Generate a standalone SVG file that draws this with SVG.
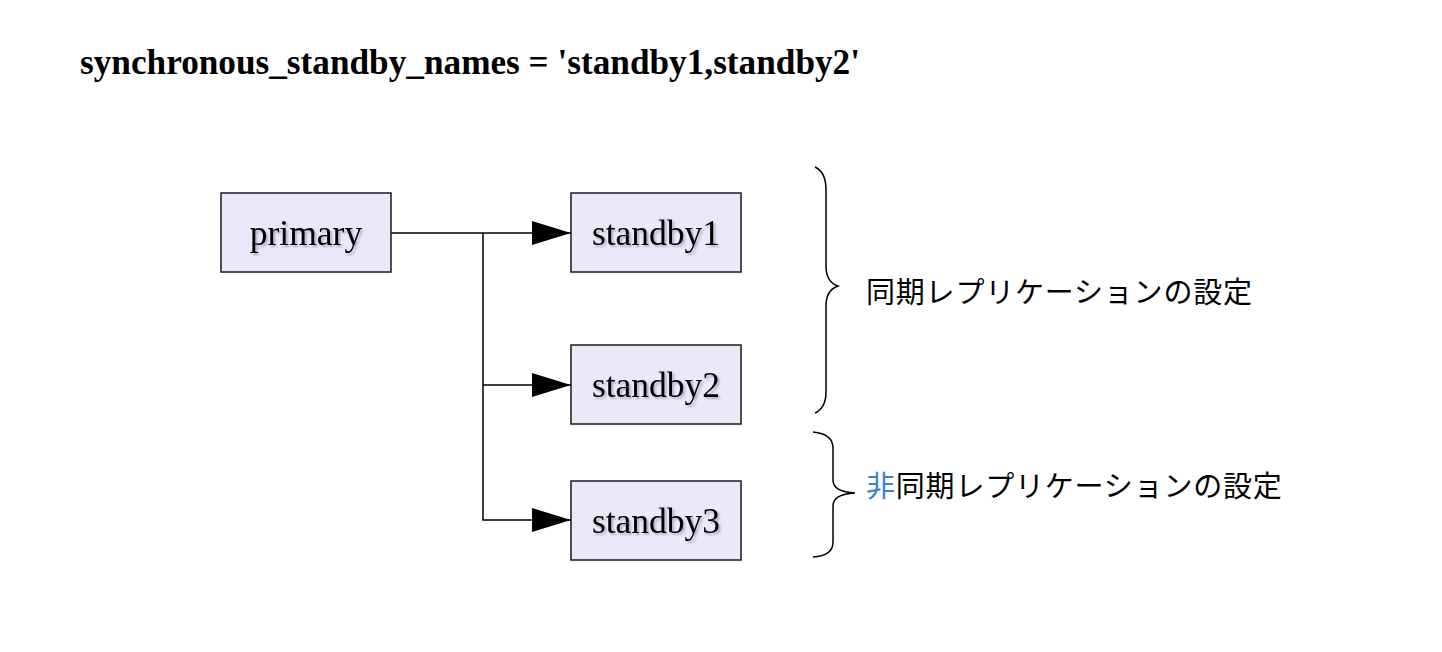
<svg xmlns="http://www.w3.org/2000/svg" width="1442" height="652" viewBox="0 0 1442 652">
<defs>
<style>
.node rect{fill:#e9e9fa;stroke:#1a1a1a;stroke-width:1.5}
.node text{font-family:"Liberation Serif",serif;font-size:35.5px;fill:#000;text-anchor:middle;filter:url(#sh)}
.conn{fill:none;stroke:#000;stroke-width:1.5}
.brace{fill:none;stroke:#000;stroke-width:1.5}
.lbl{font-family:"Noto Sans CJK JP",sans-serif;font-size:29px;letter-spacing:0.8px;fill:#000}
.title{font-family:"Liberation Serif",serif;font-weight:bold;font-size:35px;fill:#000}
</style>
<filter id="sh" x="-10%" y="-20%" width="130%" height="150%">
<feDropShadow dx="2" dy="2" stdDeviation="0.8" flood-color="#000" flood-opacity="0.25"/>
</filter>
<marker id="arr" markerWidth="40" markerHeight="26" refX="39" refY="13" markerUnits="userSpaceOnUse" orient="auto">
<path d="M0,1 L39,13 L0,25 Z" fill="#000"/>
</marker>
</defs>
<rect width="1442" height="652" fill="#fff"/>
<text class="title" x="80" y="74" textLength="780" lengthAdjust="spacingAndGlyphs">synchronous_standby_names = 'standby1,standby2'</text>
<g id="connectors">
<path class="conn" d="M391,233 H571" marker-end="url(#arr)"/>
<path class="conn" d="M483,233 V520 H571" marker-end="url(#arr)"/>
<path class="conn" d="M483,385 H571" marker-end="url(#arr)"/>
</g>
<g id="primary" class="node"><rect x="221" y="193" width="170" height="79"/><text x="306" y="245">primary</text></g>
<g id="standby1" class="node"><rect x="571" y="193" width="170" height="79"/><text x="656" y="245">standby1</text></g>
<g id="standby2" class="node"><rect x="571" y="345" width="170" height="79"/><text x="656" y="397">standby2</text></g>
<g id="standby3" class="node"><rect x="571" y="481" width="170" height="79"/><text x="656" y="533">standby3</text></g>
<g id="brace-sync">
<path class="brace" d="M815,167 Q826,172 826,190 V266 Q826,282 838,286 Q826,290 826,306 V392 Q826,408 815,413"/>
<text class="lbl" x="866" y="303">同期レプリケーションの設定</text>
</g>
<g id="brace-async">
<path class="brace" d="M813,432 Q833,434 833,448 V480 Q833,492 855,493 Q833,494 833,506 V542 Q833,556 813,557"/>
<text class="lbl" x="866" y="497"><tspan fill="#3b7fd4">非</tspan>同期レプリケーションの設定</text>
</g>
</svg>
